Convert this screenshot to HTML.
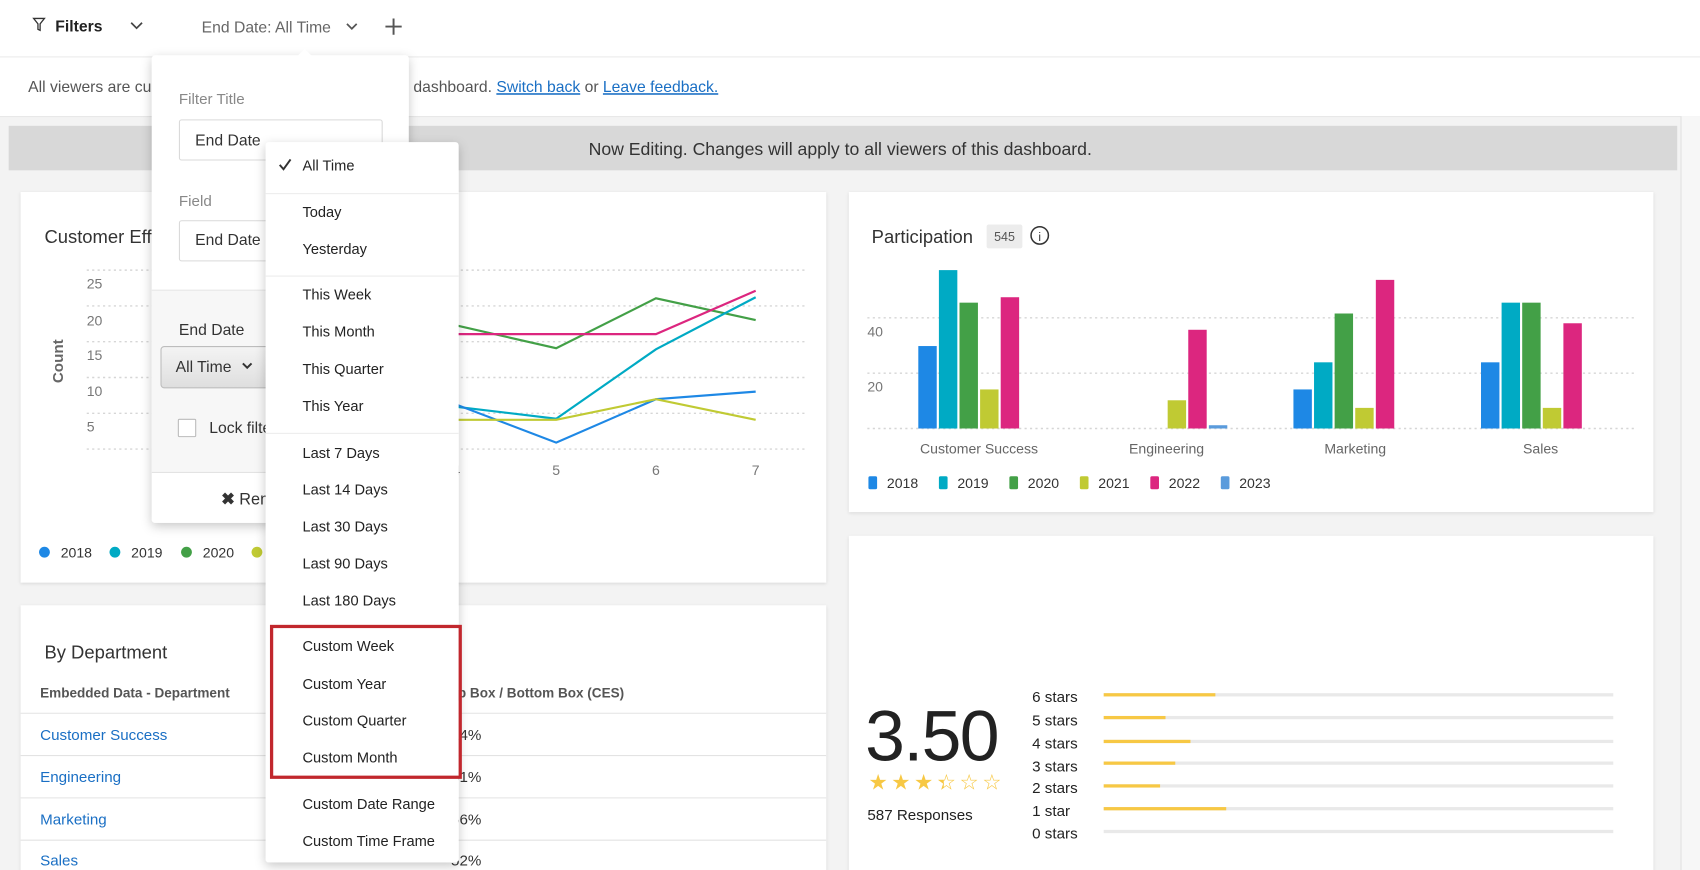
<!DOCTYPE html>
<html><head><meta charset="utf-8"><style>
html,body{margin:0;padding:0;background:#fff;overflow:hidden}
svg{display:block}
text{font-family:"Liberation Sans",Arial,sans-serif}
</style></head><body>
<svg width="1700" height="870" viewBox="0 0 1568 802" preserveAspectRatio="none" xmlns="http://www.w3.org/2000/svg">
<defs>
<filter id="sh" x="-20%" y="-10%" width="140%" height="125%"><feDropShadow dx="0" dy="3" stdDeviation="5" flood-color="#000" flood-opacity="0.22"/></filter>
<filter id="sh2" x="-5%" y="-5%" width="110%" height="110%"><feDropShadow dx="0" dy="1" stdDeviation="1.5" flood-color="#000" flood-opacity="0.12"/></filter>
<linearGradient id="btn" x1="0" y1="0" x2="0" y2="1"><stop offset="0" stop-color="#f4f4f4"/><stop offset="1" stop-color="#dedede"/></linearGradient>
<clipPath id="half" clipPathUnits="userSpaceOnUse"><rect x="860" y="700" width="10.5" height="40"/></clipPath>
</defs>
<rect x="0" y="0" width="1568" height="802" fill="#f3f3f3"/>
<rect x="0" y="0" width="1568" height="52" fill="#fff"/>
<line x1="0" y1="52.5" x2="1568" y2="52.5" stroke="#ececec"/>
<rect x="0" y="53" width="1568" height="54" fill="#fff"/>
<line x1="0" y1="107.5" x2="1568" y2="107.5" stroke="#e6e6e6"/>
<rect x="1550" y="107" width="18" height="695" fill="#f7f7f7"/>
<line x1="1550.5" y1="107" x2="1550.5" y2="802" stroke="#e2e2e2"/>

<path d="M31 17 h10 l-4 5 v6 l-2 -1 v-5 z" fill="none" stroke="#333" stroke-width="1.2"/>
<text x="51" y="29" font-size="14.5" font-weight="bold" fill="#222">Filters</text>
<path d="M121 21 l5 5 l5 -5" fill="none" stroke="#444" stroke-width="1.6"/>
<text x="186" y="30" font-size="14.5" fill="#666">End Date: All Time</text>
<path d="M320 22 l4.5 4.5 l4.5 -4.5" fill="none" stroke="#555" stroke-width="1.6"/>
<path d="M363 17 v15 M355.5 24.5 h15" stroke="#555" stroke-width="1.8"/>

<text x="26" y="85" font-size="14.5" fill="#555">All viewers are currently seeing</text>
<text x="370" y="85" font-size="14.5" fill="#555">s dashboard. <tspan fill="#1a6fc4" text-decoration="underline">Switch back</tspan> or <tspan fill="#1a6fc4" text-decoration="underline">Leave feedback.</tspan></text>

<rect x="8" y="116" width="1539" height="41" fill="#d8d8d8"/>
<text x="775" y="143" font-size="16.3" fill="#333" text-anchor="middle">Now Editing. Changes will apply to all viewers of this dashboard.</text>

<rect x="19" y="177" width="743" height="360" fill="#fff" filter="url(#sh2)"/>
<rect x="783" y="177" width="742" height="295" fill="#fff" filter="url(#sh2)"/>
<rect x="783" y="494" width="742" height="320" fill="#fff" filter="url(#sh2)"/>
<rect x="19" y="558" width="743" height="260" fill="#fff" filter="url(#sh2)"/>

<text x="41" y="224" font-size="17" fill="#333">Customer Effort</text>
<g stroke="#d6d6d6" stroke-width="1.3" stroke-dasharray="2 3">
<line x1="80" y1="249" x2="742" y2="249"/><line x1="80" y1="282" x2="742" y2="282"/>
<line x1="80" y1="315" x2="742" y2="315"/><line x1="80" y1="348" x2="742" y2="348"/>
<line x1="80" y1="381" x2="742" y2="381"/><line x1="80" y1="414" x2="742" y2="414"/>
</g>
<g font-size="13" fill="#777"><text x="80" y="266">25</text><text x="80" y="300">20</text><text x="80" y="332">15</text><text x="80" y="365">10</text><text x="80" y="398">5</text></g>
<text x="58" y="333" font-size="14" font-weight="bold" fill="#666" transform="rotate(-90 58 333)" text-anchor="middle">Count</text>
<g fill="none" stroke-width="2">
<polyline stroke="#43a047" points="380,290 421,300 513,321 605,275 697,295"/>
<polyline stroke="#dc267f" points="380,308 513,308 605,308 697,268"/>
<polyline stroke="#00aac4" points="380,370 421,375 513,386 605,322 697,274"/>
<polyline stroke="#1e88e5" points="380,368 421,373 513,408 605,368 697,361"/>
<polyline stroke="#c0ca33" points="380,387 513,387 605,368 697,387"/>
</g>
<g font-size="13" fill="#777" text-anchor="middle"><text x="421" y="438">4</text><text x="513" y="438">5</text><text x="605" y="438">6</text><text x="697" y="438">7</text></g>
<text x="390" y="472" font-size="14" font-weight="bold" fill="#666">CES</text>
<g font-size="13" fill="#333">
<circle cx="41" cy="509" r="5" fill="#1e88e5"/><text x="56" y="514">2018</text>
<circle cx="106" cy="509" r="5" fill="#00aac4"/><text x="121" y="514">2019</text>
<circle cx="172" cy="509" r="5" fill="#43a047"/><text x="187" y="514">2020</text>
<circle cx="237" cy="509" r="5" fill="#c0ca33"/>
</g>

<text x="804" y="224" font-size="17" fill="#333">Participation</text>
<rect x="910" y="207" width="33" height="22" fill="#ececec" rx="2"/>
<text x="926.5" y="222" font-size="11.5" fill="#555" text-anchor="middle">545</text>
<circle cx="959" cy="217" r="8" fill="none" stroke="#333" stroke-width="1.4"/>
<text x="959" y="222" font-size="11" fill="#333" text-anchor="middle">i</text>
<g stroke="#d6d6d6" stroke-width="1.3" stroke-dasharray="2 3">
<line x1="800" y1="293" x2="1510" y2="293"/><line x1="800" y1="344" x2="1510" y2="344"/><line x1="800" y1="395" x2="1510" y2="395"/>
</g>
<g font-size="13" fill="#777"><text x="800" y="310">40</text><text x="800" y="361">20</text></g>
<g>
<rect x="847" y="319" width="17" height="76" fill="#1e88e5"/>
<rect x="866" y="249" width="17" height="146" fill="#00aac4"/>
<rect x="885" y="279" width="17" height="116" fill="#43a047"/>
<rect x="904" y="359" width="17" height="36" fill="#c0ca33"/>
<rect x="923" y="274" width="17" height="121" fill="#dc267f"/>
<rect x="1077" y="369" width="17" height="26" fill="#c0ca33"/>
<rect x="1096" y="304" width="17" height="91" fill="#dc267f"/>
<rect x="1115" y="392" width="17" height="3" fill="#5a9bdc"/>
<rect x="1193" y="359" width="17" height="36" fill="#1e88e5"/>
<rect x="1212" y="334" width="17" height="61" fill="#00aac4"/>
<rect x="1231" y="289" width="17" height="106" fill="#43a047"/>
<rect x="1250" y="376" width="17" height="19" fill="#c0ca33"/>
<rect x="1269" y="258" width="17" height="137" fill="#dc267f"/>
<rect x="1366" y="334" width="17" height="61" fill="#1e88e5"/>
<rect x="1385" y="279" width="17" height="116" fill="#00aac4"/>
<rect x="1404" y="279" width="17" height="116" fill="#43a047"/>
<rect x="1423" y="376" width="17" height="19" fill="#c0ca33"/>
<rect x="1442" y="298" width="17" height="97" fill="#dc267f"/>
</g>
<g font-size="13" fill="#666" text-anchor="middle"><text x="903" y="418">Customer Success</text><text x="1076" y="418">Engineering</text><text x="1250" y="418">Marketing</text><text x="1421" y="418">Sales</text></g>
<g font-size="13" fill="#333">
<rect x="801" y="439" width="8" height="12" rx="1.5" fill="#1e88e5"/><text x="818" y="450">2018</text>
<rect x="866" y="439" width="8" height="12" rx="1.5" fill="#00aac4"/><text x="883" y="450">2019</text>
<rect x="931" y="439" width="8" height="12" rx="1.5" fill="#43a047"/><text x="948" y="450">2020</text>
<rect x="996" y="439" width="8" height="12" rx="1.5" fill="#c0ca33"/><text x="1013" y="450">2021</text>
<rect x="1061" y="439" width="8" height="12" rx="1.5" fill="#dc267f"/><text x="1078" y="450">2022</text>
<rect x="1126" y="439" width="8" height="12" rx="1.5" fill="#5a9bdc"/><text x="1143" y="450">2023</text>
</g>

<text x="798" y="701" font-size="66" fill="#222" letter-spacing="-1.5">3.50</text>
<g font-size="20" font-family="DejaVu Sans" fill="#f7c844" text-anchor="middle">
<text x="810" y="728">★</text><text x="831" y="728">★</text><text x="852" y="728">★</text>
<text x="873" y="728">☆</text><text x="894" y="728">☆</text><text x="915" y="728">☆</text>
<text x="873" y="728" clip-path="url(#half)">★</text>
</g>
<text x="800" y="756" font-size="14" fill="#222">587 Responses</text>
<g font-size="14" fill="#222">
<text x="952" y="647">6 stars</text><text x="952" y="669">5 stars</text><text x="952" y="690">4 stars</text>
<text x="952" y="711">3 stars</text><text x="952" y="731">2 stars</text><text x="952" y="752">1 star</text><text x="952" y="773">0 stars</text>
</g>
<g fill="#e9e9e9">
<rect x="1018" y="639" width="470" height="3"/><rect x="1018" y="660" width="470" height="3"/><rect x="1018" y="682" width="470" height="3"/>
<rect x="1018" y="702" width="470" height="3"/><rect x="1018" y="723" width="470" height="3"/><rect x="1018" y="744" width="470" height="3"/><rect x="1018" y="765" width="470" height="3"/>
</g>
<g fill="#f7c844">
<rect x="1018" y="639" width="103" height="3"/><rect x="1018" y="660" width="57" height="3"/><rect x="1018" y="682" width="80" height="3"/>
<rect x="1018" y="702" width="66" height="3"/><rect x="1018" y="723" width="52" height="3"/><rect x="1018" y="744" width="113" height="3"/>
</g>

<text x="41" y="607" font-size="17" fill="#333">By Department</text>
<text x="37" y="643" font-size="12.5" font-weight="bold" fill="#555">Embedded Data - Department</text>
<text x="408" y="643" font-size="12.5" font-weight="bold" fill="#555">Top Box / Bottom Box (CES)</text>
<g stroke="#e3e3e3"><line x1="19" y1="657.5" x2="762" y2="657.5"/><line x1="19" y1="696.5" x2="762" y2="696.5"/><line x1="19" y1="735.5" x2="762" y2="735.5"/><line x1="19" y1="774.5" x2="762" y2="774.5"/></g>
<g font-size="14" fill="#1a6fc4"><text x="37" y="682">Customer Success</text><text x="37" y="721">Engineering</text><text x="37" y="760">Marketing</text><text x="37" y="798">Sales</text></g>
<g font-size="14" fill="#333"><text x="416" y="682">24%</text><text x="416" y="721">31%</text><text x="416" y="760">56%</text><text x="416" y="798">52%</text></g>

<g filter="url(#sh)">
<rect x="140" y="51" width="237" height="431" fill="#fff" rx="3"/>
</g>
<path d="M274 52 l7 -7 l7 7 z" fill="#fff"/>
<rect x="140" y="268" width="237" height="167" fill="#f7f7f7"/>
<line x1="140" y1="267.5" x2="377" y2="267.5" stroke="#e6e6e6"/>
<line x1="140" y1="435.5" x2="377" y2="435.5" stroke="#e3e3e3"/>
<text x="165" y="96" font-size="14" fill="#888">Filter Title</text>
<rect x="165.5" y="110.5" width="187" height="37" fill="#fff" stroke="#d9d9d9" rx="2"/>
<text x="180" y="134" font-size="14.5" fill="#333">End Date</text>
<text x="165" y="190" font-size="14" fill="#888">Field</text>
<rect x="165.5" y="203.5" width="187" height="37" fill="#fff" stroke="#d9d9d9" rx="2"/>
<text x="180" y="226" font-size="14.5" fill="#333">End Date</text>
<text x="165" y="309" font-size="14.5" fill="#333">End Date</text>
<rect x="148.5" y="319.5" width="110" height="38" fill="url(#btn)" stroke="#bdbdbd" rx="3"/>
<text x="162" y="343" font-size="14.5" fill="#333">All Time</text>
<path d="M224 335 l4 4 l4 -4" fill="none" stroke="#333" stroke-width="1.8"/>
<rect x="164.5" y="386.5" width="16" height="16" fill="#fff" stroke="#bbb" rx="1"/>
<text x="193" y="399" font-size="14.5" fill="#333">Lock filter</text>
<text x="204" y="465" font-size="15" fill="#333"><tspan font-weight="bold">✖</tspan> Remove</text>

<g filter="url(#sh)"><rect x="245" y="131" width="178" height="664" fill="#fff" rx="3"/></g>
<g stroke="#ececec"><line x1="245" y1="178.5" x2="423" y2="178.5"/><line x1="245" y1="254.5" x2="423" y2="254.5"/><line x1="245" y1="399.5" x2="423" y2="399.5"/></g>
<path d="M258 152 l3.5 4 l6.5 -9" fill="none" stroke="#333" stroke-width="1.8"/>
<g font-size="13.5" fill="#222">
<text x="279" y="157">All Time</text>
<text x="279" y="200">Today</text><text x="279" y="234">Yesterday</text>
<text x="279" y="276">This Week</text><text x="279" y="310">This Month</text><text x="279" y="345">This Quarter</text><text x="279" y="379">This Year</text>
<text x="279" y="422">Last 7 Days</text><text x="279" y="456">Last 14 Days</text><text x="279" y="490">Last 30 Days</text><text x="279" y="524">Last 90 Days</text><text x="279" y="558">Last 180 Days</text>
<text x="279" y="600">Custom Week</text><text x="279" y="635">Custom Year</text><text x="279" y="669">Custom Quarter</text><text x="279" y="703">Custom Month</text>
<text x="279" y="746">Custom Date Range</text><text x="279" y="780">Custom Time Frame</text>
</g>
<rect x="250.5" y="577.5" width="174" height="139" fill="none" stroke="#c1272d" stroke-width="3"/>
</svg>
</body></html>
